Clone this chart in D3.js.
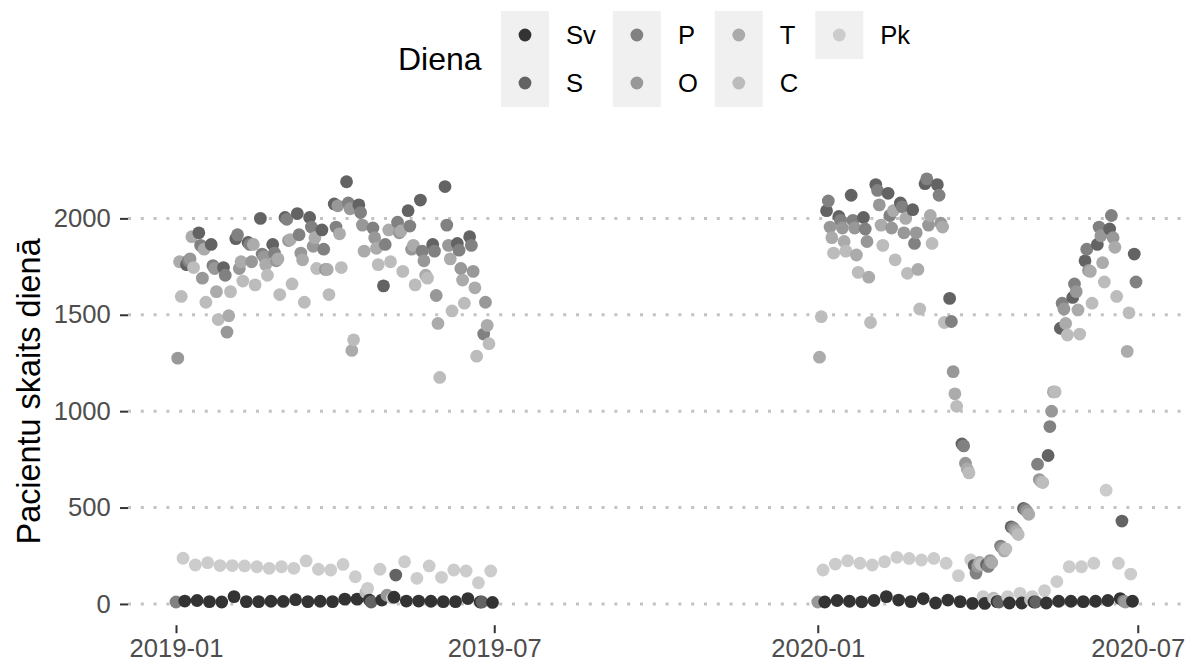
<!DOCTYPE html>
<html><head><meta charset="utf-8">
<script src="https://cdn.jsdelivr.net/npm/d3@7"></script>
<style>
html,body{margin:0;padding:0;background:#fff;}
svg{display:block;font-family:"Liberation Sans",Arial,Helvetica,sans-serif;}
</style></head>
<body><svg id="chart" width="1186" height="664"></svg>
<script>
// Legend labels (in legend order) and their grey colours
const dayLabels = ["Sv","S","P","O","T","C","Pk"];
const dayColors = ["#333333","#636363","#818181","#989898","#ababab","#bcbcbc","#cccccc"];
const yTicks = [0, 500, 1000, 1500, 2000];
const xTickLabels = ["2019-01","2019-07","2020-01","2020-07"];

// Period 1: weeks starting Monday 2018-12-31 (values per weekday, one per week)
const p1Start = "2018-12-31";
const mon2019 = [null,1760,1925,1865,1745,1895,1875,2000,1865,2005,2025,2005,1940,2075,2190,2070,10,1650,150,2040,2095,1865,2165,1870,1905,10];
const tue2019 = [10,1780,1860,1755,1705,1915,1865,1815,1820,1995,1915,1955,1840,1955,2080,2030,1950,1865,1980,1960,1830,1830,1965,1835,1860,1400];
const wed2019 = [1275,1790,1690,1740,1410,1740,1775,1800,1780,1885,1820,1855,1735,2065,2050,1965,1900,45,1925,1840,1780,1600,1860,1740,1725,1565];
const thu2019 = [1775,1905,1840,1620,1495,1775,1865,1760,1790,1890,1785,1900,1735,1920,1315,1830,1845,1940,1935,1860,1705,1455,1790,1680,1640,1445];
const fri2019 = [1595,1745,1565,1475,1620,1675,1655,1705,1605,1660,1565,1740,1605,1745,1370,60,1760,1775,1725,1655,1690,1175,1520,1560,1285,1350];
const sat2019 = [237,202,214,199,199,197,193,185,193,185,223,180,176,205,141,81,180,30,219,133,197,138,176,171,110,171];
const sun2019 = [15,18,12,10,38,12,12,14,13,22,12,14,12,25,25,20,20,35,15,15,14,12,12,28,10,8];

// Period 2: weeks starting Monday 2019-12-30
const p2Start = "2019-12-30";
const mon2020 = [null,2040,2010,2120,2005,2175,2130,2080,2045,2180,2175,1585,830,200,205,10,400,495,10,770,1430,1590,1780,1865,1945,430,1815];
const tue2020 = [null,2090,1990,1990,1945,2145,2015,2060,1870,2205,2120,1465,820,160,195,300,395,490,725,920,1560,1660,1840,1955,2015,15,1670];
const wed2020 = [10,1955,1950,1950,1880,2070,1950,1925,1925,1965,1975,1205,730,195,225,290,385,480,645,1000,1530,1620,1730,1910,1900,10,null];
const thu2020 = [1280,1900,1880,1810,1695,1965,2040,2000,1735,2015,1955,1090,700,215,215,275,375,465,635,1100,1455,1525,1725,1770,1850,1310,null];
const fri2020 = [1490,1820,1830,1720,1460,1860,1785,1715,1530,1870,1460,1025,680,205,30,285,360,20,630,1100,1395,1400,1560,1670,1595,1510,null];
const sat2020 = [176,207,224,211,202,219,242,236,228,236,211,147,228,38,20,38,55,38,69,116,193,193,211,590,211,155,null];
const sun2020 = [10,18,14,11,18,38,20,12,28,5,20,12,3,3,12,5,5,10,5,14,14,12,14,18,28,14,null];

// weekday offset from Monday -> legend index
const periods = [
  {start:p1Start, series:[[mon2019,0,1],[tue2019,1,2],[wed2019,2,3],[thu2019,3,4],[fri2019,4,5],[sat2019,5,6],[sun2019,6,0]]},
  {start:p2Start, series:[[mon2020,0,1],[tue2020,1,2],[wed2020,2,3],[thu2020,3,4],[fri2020,4,5],[sat2020,5,6],[sun2020,6,0]]}
];

const points = [];
periods.forEach(p => {
  const s = new Date(p.start + "T00:00:00Z");
  p.series.forEach(([arr, off, li]) => {
    arr.forEach((v, w) => {
      if (v == null) return;
      points.push({date: d3.utcDay.offset(s, w*7 + off), value: v, cls: li});
    });
  });
});
points.sort((a,b) => a.date - b.date);

const svg = d3.select("#chart");
const panel = {left:128, right:1184, top:157.6, bottom:625.2};

const dExt = d3.extent(points, d => d.date);
const span = dExt[1] - dExt[0];
const x = d3.scaleUtc()
  .domain([new Date(+dExt[0] - span*0.05), new Date(+dExt[1] + span*0.05)])
  .range([panel.left, panel.right]);
const vMax = d3.max(points, d => d.value), vMin = 0;
const y = d3.scaleLinear()
  .domain([vMin - (vMax-vMin)*0.05, vMax + (vMax-vMin)*0.05])
  .range([panel.bottom, panel.top]);

// gridlines
svg.append("g").selectAll("line").data(yTicks).join("line")
  .attr("x1", panel.left).attr("x2", panel.right)
  .attr("y1", d => y(d)).attr("y2", d => y(d))
  .attr("stroke", "#c2c2c2").attr("stroke-width", 3)
  .attr("stroke-dasharray", "3 9.8");

// y axis
const yAxis = svg.append("g").attr("transform", `translate(${panel.left},0)`)
  .call(d3.axisLeft(y).tickValues(yTicks).tickSize(8).tickPadding(9.3).tickFormat(d3.format("d")));
yAxis.select(".domain").remove();
yAxis.selectAll(".tick line").attr("stroke", "#333").attr("stroke-width", 2);
yAxis.selectAll(".tick text").attr("fill", "#4d4d4d").style("font-size", "25.6px")
  .style("font-family", "'Liberation Sans', Arial, sans-serif");

// x axis
const xTickDates = xTickLabels.map(s => new Date(s + "-01T00:00:00Z"));
const xAxis = svg.append("g").attr("transform", `translate(0,${panel.bottom})`)
  .call(d3.axisBottom(x).tickValues(xTickDates).tickSize(8).tickPadding(6)
    .tickFormat((d,i) => xTickLabels[i]));
xAxis.select(".domain").remove();
xAxis.selectAll(".tick line").attr("stroke", "#333").attr("stroke-width", 2);
xAxis.selectAll(".tick text").attr("fill", "#4d4d4d").style("font-size", "25.6px")
  .style("font-family", "'Liberation Sans', Arial, sans-serif");

// points
svg.append("g").selectAll("circle").data(points).join("circle")
  .attr("cx", d => x(d.date)).attr("cy", d => y(d.value))
  .attr("r", 6.4).attr("fill", d => dayColors[d.cls]);

// y title
svg.append("text")
  .attr("transform", `translate(29,${(panel.top+panel.bottom)/2}) rotate(-90)`)
  .attr("text-anchor", "middle").attr("dy", "0.35em")
  .style("font-size", "32.4px").attr("fill", "#000")
  .text("Pacientu skaits dienā");

// legend
const lg = svg.append("g");
lg.append("text").attr("x", 398).attr("y", 59).attr("dy", "0.35em")
  .style("font-size", "32px").attr("fill", "#000").text("Diena");
const keyW = 48, keyH = 48, rowY = [35, 83];
let cx = 501;
const nCols = Math.ceil(dayLabels.length / 2);
for (let c = 0; c < nCols; c++) {
  let maxW = 0;
  for (let r = 0; r < 2; r++) {
    const i = c*2 + r;
    if (i >= dayLabels.length) continue;
    lg.append("rect").attr("x", cx).attr("y", rowY[r] - keyH/2).attr("width", keyW).attr("height", keyH)
      .attr("fill", "#f0f0f0");
    lg.append("circle").attr("cx", cx + keyW/2).attr("cy", rowY[r]).attr("r", 6.4).attr("fill", dayColors[i]);
    const t = lg.append("text").attr("x", cx + keyW + 17).attr("y", rowY[r]).attr("dy", "0.35em")
      .style("font-size", "25.6px").attr("fill", "#000").text(dayLabels[i]);
    maxW = Math.max(maxW, t.node().getComputedTextLength());
  }
  cx += keyW + 17 + maxW + 17;
}
</script></body></html>
